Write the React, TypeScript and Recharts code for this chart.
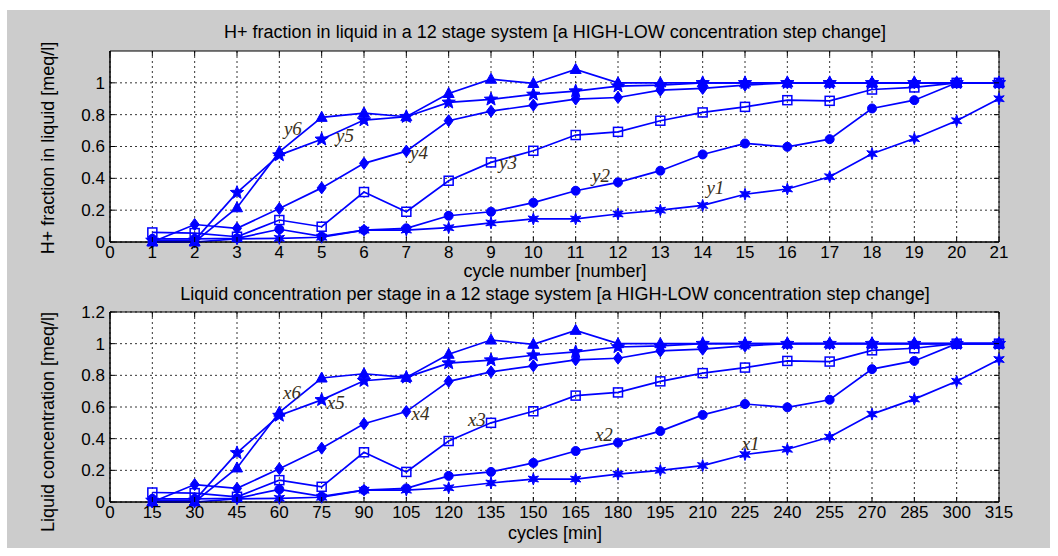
import React from 'react';
import { LineChart, Line, XAxis, YAxis, CartesianGrid, ReferenceArea, ReferenceDot } from 'recharts';

// cycle index and the matching time in minutes (15 min per cycle)
const cycleNumbers = [1, 2, 3, 4, 5, 6, 7, 8, 9, 10, 11, 12, 13, 14, 15, 16, 17, 18, 19, 20, 21];
const cycleMinutes = [15, 30, 45, 60, 75, 90, 105, 120, 135, 150, 165, 180, 195, 210, 225, 240, 255, 270, 285, 300, 315];

// stage values (same numbers in both panels)
const stage1 = [0.0, 0.0, 0.02, 0.023, 0.03, 0.075, 0.075, 0.09, 0.12, 0.145, 0.145, 0.176, 0.2, 0.23, 0.3, 0.333, 0.41, 0.555, 0.65, 0.762, 0.9];
const stage2 = [0.02, 0.02, 0.023, 0.08, 0.035, 0.075, 0.086, 0.165, 0.19, 0.247, 0.322, 0.375, 0.448, 0.55, 0.619, 0.598, 0.646, 0.839, 0.891, 1.0, 1.0];
const stage3 = [0.06, 0.056, 0.033, 0.138, 0.096, 0.314, 0.19, 0.385, 0.5, 0.573, 0.672, 0.692, 0.762, 0.814, 0.849, 0.891, 0.887, 0.958, 0.971, 1.0, 1.0];
const stage4 = [0.0, 0.11, 0.086, 0.21, 0.34, 0.494, 0.571, 0.762, 0.822, 0.86, 0.898, 0.908, 0.954, 0.965, 0.986, 1.0, 1.0, 1.0, 1.0, 1.0, 1.0];
const stage5 = [0.01, 0.01, 0.31, 0.546, 0.645, 0.766, 0.787, 0.877, 0.896, 0.927, 0.948, 0.979, 0.986, 1.0, 1.0, 1.0, 1.0, 1.0, 1.0, 1.0, 1.0];
const stage6 = [0.0, 0.0, 0.215, 0.567, 0.783, 0.81, 0.787, 0.933, 1.023, 0.996, 1.084, 1.0, 1.0, 1.0, 1.0, 1.0, 1.0, 1.0, 1.0, 1.0, 1.0];

const xTicksTop = [0, 1, 2, 3, 4, 5, 6, 7, 8, 9, 10, 11, 12, 13, 14, 15, 16, 17, 18, 19, 20, 21];
const xTicksBottom = [0, 15, 30, 45, 60, 75, 90, 105, 120, 135, 150, 165, 180, 195, 210, 225, 240, 255, 270, 285, 300, 315];
const yTicksTop = [0, 0.2, 0.4, 0.6, 0.8, 1];
const yTicksBottom = [0, 0.2, 0.4, 0.6, 0.8, 1, 1.2];

// in-plot text labels next to each curve
const curveLabelsTop = [
  { text: 'y1', x: 14.3, y: 0.345 },
  { text: 'y2', x: 11.6, y: 0.42 },
  { text: 'y3', x: 9.4, y: 0.5 },
  { text: 'y4', x: 7.3, y: 0.565 },
  { text: 'y5', x: 5.55, y: 0.67 },
  { text: 'y6', x: 4.32, y: 0.716 },
];
const curveLabelsBottom = [
  { text: 'x1', x: 227, y: 0.37 },
  { text: 'x2', x: 175, y: 0.43 },
  { text: 'x3', x: 130, y: 0.52 },
  { text: 'x4', x: 110, y: 0.56 },
  { text: 'x5', x: 80, y: 0.63 },
  { text: 'x6', x: 64.5, y: 0.69 },
];

const BLUE = '#0000ff';
const SANS = '"Liberation Sans", Arial, sans-serif';
const SERIF = '"Liberation Serif", "Times New Roman", serif';

const rows = cycleNumbers.map((c, i) => ({
  cycle: c,
  minutes: cycleMinutes[i],
  s1: stage1[i],
  s2: stage2[i],
  s3: stage3[i],
  s4: stage4[i],
  s5: stage5[i],
  s6: stage6[i],
}));

type Shape = 'hexagram' | 'circle' | 'square' | 'diamond' | 'pentagram' | 'triangle';

const starPath = (cx: number, cy: number, n: number, ro: number, ri: number) => {
  let d = '';
  for (let k = 0; k < n * 2; k++) {
    const r = k % 2 === 0 ? ro : ri;
    const a = -Math.PI / 2 + (k * Math.PI) / n;
    d += `${k === 0 ? 'M' : 'L'}${cx + r * Math.cos(a)},${cy + r * Math.sin(a)}`;
  }
  return d + 'Z';
};

const Marker = ({ cx, cy, shape }: { cx: number; cy: number; shape: Shape }) => {
  if (cx == null || cy == null) return null;
  switch (shape) {
    case 'circle':
      return <circle cx={cx} cy={cy} r={4.5} fill={BLUE} stroke={BLUE} />;
    case 'square':
      return <rect x={cx - 4.5} y={cy - 4.5} width={9} height={9} fill="none" stroke={BLUE} strokeWidth={1.5} />;
    case 'diamond':
      return <path d={`M${cx},${cy - 6}L${cx + 4.5},${cy}L${cx},${cy + 6}L${cx - 4.5},${cy}Z`} fill={BLUE} stroke={BLUE} />;
    case 'triangle':
      return <path d={`M${cx},${cy - 6}L${cx + 5.5},${cy + 4}L${cx - 5.5},${cy + 4}Z`} fill={BLUE} stroke={BLUE} />;
    case 'pentagram':
      return <path d={starPath(cx, cy, 5, 7, 3)} fill={BLUE} stroke={BLUE} />;
    default:
      return <path d={starPath(cx, cy, 6, 6, 2.5)} fill={BLUE} stroke={BLUE} />;
  }
};

const dotFor = (shape: Shape) => (p: any) => <Marker key={`${shape}-${p.index}`} cx={p.cx} cy={p.cy} shape={shape} />;

const series: { key: string; shape: Shape }[] = [
  { key: 's1', shape: 'hexagram' },
  { key: 's2', shape: 'circle' },
  { key: 's3', shape: 'square' },
  { key: 's4', shape: 'diamond' },
  { key: 's5', shape: 'pentagram' },
  { key: 's6', shape: 'triangle' },
];

const PLOT_W = 889;

const makeXTick = (plotH: number) => (p: any) => {
  const { x, y, payload } = p;
  return (
    <g>
      <line x1={x} y1={y} x2={x} y2={y - 5} stroke="#000" />
      <line x1={x} y1={y - plotH} x2={x} y2={y - plotH + 5} stroke="#000" />
      <text x={x} y={y + 16} textAnchor="middle" fontSize={17} fontFamily={SANS} fill="#000">
        {payload.value}
      </text>
    </g>
  );
};

const YTick = (p: any) => {
  const { x, y, payload } = p;
  return (
    <g>
      <line x1={x} y1={y} x2={x + 5} y2={y} stroke="#000" />
      <line x1={x + PLOT_W - 5} y1={y} x2={x + PLOT_W} y2={y} stroke="#000" />
      <text x={x - 5} y={y} dy="0.35em" textAnchor="end" fontSize={17} fontFamily={SANS} fill="#000">
        {payload.value}
      </text>
    </g>
  );
};

const Panel = ({ xKey, xTicks, yTicks, xMax, labels, plotH, margin, height }: any) => (
  <LineChart width={1058} height={height} data={rows} margin={margin}>
    <CartesianGrid
      fill="#ffffff"
      fillOpacity={1}
      stroke="#000"
      strokeDasharray="2 3"
      strokeWidth={0.8}
      horizontalValues={yTicks}
      verticalValues={xTicks}
    />
    <XAxis
      dataKey={xKey}
      type="number"
      domain={[0, xMax]}
      ticks={xTicks}
      interval={0}
      tickSize={0}
      tickMargin={0}
      tickLine={false}
      axisLine={{ stroke: '#000' }}
      height={30}
      tick={makeXTick(plotH)}
    />
    <YAxis
      type="number"
      domain={[0, 1.2]}
      ticks={yTicks}
      interval={0}
      tickSize={0}
      tickMargin={0}
      tickLine={false}
      axisLine={{ stroke: '#000' }}
      width={60}
      tick={YTick}
    />
    {series.map((s) => (
      <Line
        key={s.key}
        type="linear"
        dataKey={s.key}
        stroke={BLUE}
        strokeWidth={1.7}
        dot={dotFor(s.shape)}
        activeDot={false}
        isAnimationActive={false}
      />
    ))}
    <ReferenceArea x1={0} x2={xMax} y1={0} y2={1.2} fill="none" stroke="#000" strokeWidth={1} />
    {labels.map((l: any) => (
      <ReferenceDot
        key={l.text}
        x={l.x}
        y={l.y}
        r={0}
        fill="none"
        stroke="none"
        label={{ value: l.text, position: 'center', fill: '#3a3020', fontSize: 19, fontFamily: SERIF, fontStyle: 'italic' }}
      />
    ))}
  </LineChart>
);

const textStyle: React.CSSProperties = {
  position: 'absolute',
  fontFamily: SANS,
  color: '#000',
  whiteSpace: 'nowrap',
  lineHeight: '20px',
};

export default function App() {
  return (
    <div style={{ position: 'absolute', left: 0, top: 0, width: 1058, height: 556, background: '#ffffff', overflow: 'hidden' }}>
      <div style={{ position: 'absolute', left: 7, top: 10, width: 1043, height: 538, background: '#cccccc' }} />
      <div style={{ position: 'absolute', left: 0, top: 0 }}>
        <Panel
          xKey="cycle"
          xTicks={xTicksTop}
          yTicks={yTicksTop}
          xMax={21}
          labels={curveLabelsTop}
          plotH={191}
          height={280}
          margin={{ top: 51, right: 59, bottom: 8, left: 50 }}
        />
      </div>
      <div style={{ position: 'absolute', left: 0, top: 262 }}>
        <Panel
          xKey="minutes"
          xTicks={xTicksBottom}
          yTicks={yTicksBottom}
          xMax={315}
          labels={curveLabelsBottom}
          plotH={190}
          height={294}
          margin={{ top: 50, right: 59, bottom: 24, left: 50 }}
        />
      </div>

      <div style={{ ...textStyle, left: 0, width: 1110, top: 22, textAlign: 'center', fontSize: 18 }}>
        H+ fraction in liquid in a 12 stage system [a HIGH-LOW concentration step change]
      </div>
      <div style={{ ...textStyle, left: 0, width: 1110, top: 261, textAlign: 'center', fontSize: 18 }}>
        cycle number [number]
      </div>
      <div style={{ ...textStyle, left: 0, width: 1110, top: 284, textAlign: 'center', fontSize: 18 }}>
        Liquid concentration per stage in a 12 stage system [a HIGH-LOW concentration step change]
      </div>
      <div style={{ ...textStyle, left: 0, width: 1110, top: 523, textAlign: 'center', fontSize: 18 }}>
        cycles [min]
      </div>
      <div style={{ ...textStyle, left: 48, top: 148, fontSize: 18, transform: 'translate(-50%, -50%) rotate(-90deg)' }}>
        H+ fraction in liquid [meq/l]
      </div>
      <div style={{ ...textStyle, left: 48, top: 422, fontSize: 18, transform: 'translate(-50%, -50%) rotate(-90deg)' }}>
        Liquid concentration [meq/l]
      </div>
    </div>
  );
}
